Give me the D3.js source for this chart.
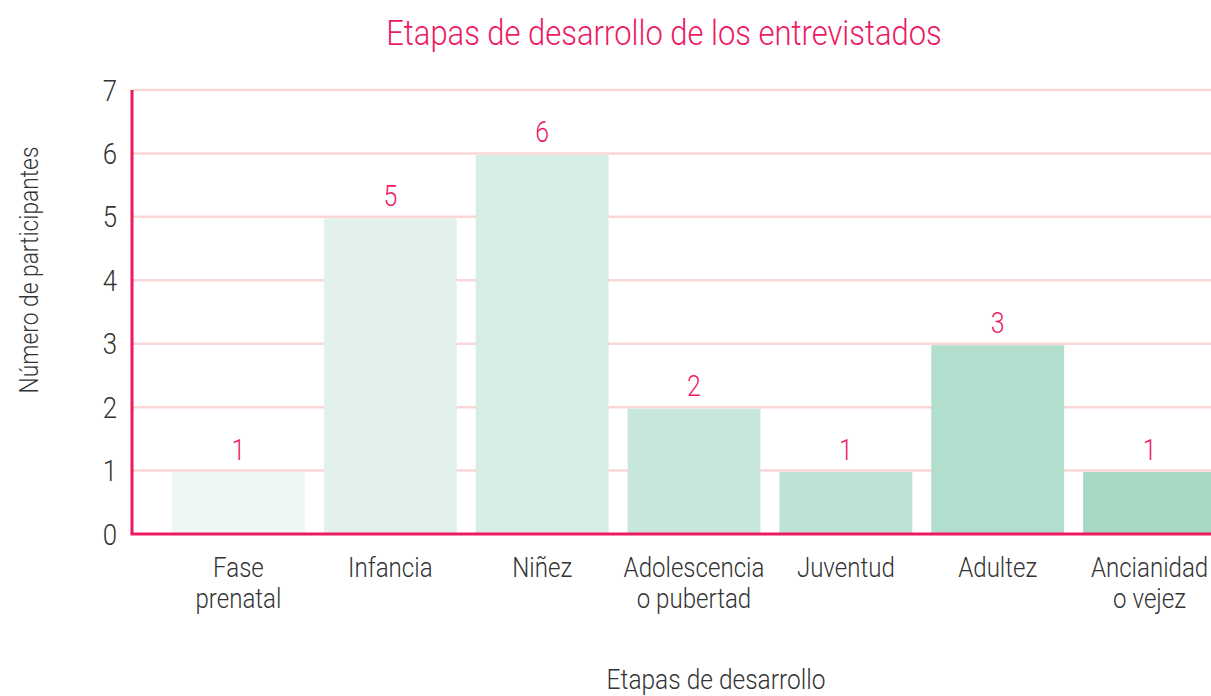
<!DOCTYPE html>
<html>
<head>
<meta charset="utf-8">
<script src="https://cdn.jsdelivr.net/npm/d3@7"></script>
<style>
  html, body { margin: 0; padding: 0; background: #ffffff; overflow: hidden; }
  svg text { font-family: "Roboto", "DejaVu Sans Condensed", sans-serif; font-weight: 300; }
</style>
</head>
<body>
<svg id="chart" width="1211" height="696"></svg>
<script>
// Developmental stages of the interviewees
const categories = [
  ["Fase", "prenatal"],
  ["Infancia"],
  ["Niñez"],
  ["Adolescencia", "o pubertad"],
  ["Juventud"],
  ["Adultez"],
  ["Ancianidad", "o vejez"]
];
const values = [1, 5, 6, 2, 1, 3, 1];
const yTicks = [0, 1, 2, 3, 4, 5, 6, 7];
const barColors = ["#eef7f3", "#e2f1ec", "#d6ede5", "#c8e7dc", "#bce3d4", "#b2dece", "#a6d8c4"];

const title = "Etapas de desarrollo de los entrevistados";
const xTitle = "Etapas de desarrollo";
const yTitle = "Número de participantes";

const pink = "#ec1a5f";
const gridPink = "#fcd6d6";
const textGrey = "#333333";
const SX = 0.86; // horizontal squeeze giving a condensed face

const svg = d3.select("#chart");
const W = 1211;
const plotLeft = 132, plotBottom = 534, plotTop = 90;

// condensed text: a group placed at the anchor, squeezed horizontally
function label(parent, px, py, lines, opts) {
  const g = parent.append("g")
    .attr("transform", `translate(${px},${py}) rotate(${opts.rotate || 0}) scale(${SX},1)`);
  const t = g.append("text")
    .attr("text-anchor", opts.anchor || "middle")
    .attr("fill", opts.fill)
    .attr("font-size", opts.size);
  [].concat(lines).forEach((line, i) => {
    t.append("tspan").attr("x", 0).attr("dy", i === 0 ? 0 : opts.lineGap).text(line);
  });
  return g;
}

const keys = categories.map(d => d.join(" "));
const x = d3.scaleBand()
  .domain(keys)
  .range([plotLeft, 1256])
  .paddingInner(0.125)
  .paddingOuter(0.2635)
  .align(0.5);

const y = d3.scaleLinear().domain([0, 7]).range([plotBottom, plotTop]);

// horizontal grid
svg.append("g")
  .selectAll("line")
  .data(yTicks.filter(t => t > 0))
  .join("line")
  .attr("x1", plotLeft).attr("x2", W)
  .attr("y1", d => y(d)).attr("y2", d => y(d))
  .attr("stroke", gridPink).attr("stroke-width", 2.5);

// bars
svg.append("g")
  .selectAll("rect")
  .data(values)
  .join("rect")
  .attr("x", (d, i) => x(keys[i]))
  .attr("width", x.bandwidth())
  .attr("y", d => y(d) + 1.5)
  .attr("height", d => plotBottom - y(d) - 1.5)
  .attr("fill", (d, i) => barColors[i]);

// value labels
const valG = svg.append("g");
values.forEach((v, i) => {
  label(valG, x(keys[i]) + x.bandwidth() / 2, y(v) - 11, String(v), { fill: pink, size: 29 });
});

// y axis
const yAxis = d3.axisLeft(y).tickValues(yTicks).tickSize(0).tickPadding(0).tickFormat(() => "");
const gy = svg.append("g").attr("transform", `translate(${plotLeft},0)`).call(yAxis);
gy.select(".domain").remove();
gy.selectAll(".tick").each(function (d) {
  label(d3.select(this), -15, 10, d3.format("d")(d), { fill: textGrey, size: 30, anchor: "end" });
});

// axis lines
svg.append("line")
  .attr("x1", plotLeft).attr("x2", plotLeft)
  .attr("y1", plotTop).attr("y2", plotBottom)
  .attr("stroke", pink).attr("stroke-width", 3);
svg.append("line")
  .attr("x1", plotLeft - 1.5).attr("x2", W)
  .attr("y1", plotBottom).attr("y2", plotBottom)
  .attr("stroke", pink).attr("stroke-width", 3);

// x axis category labels
const catG = svg.append("g");
categories.forEach((c, i) => {
  label(catG, x(keys[i]) + x.bandwidth() / 2, 577, c, { fill: textGrey, size: 28, lineGap: 31 });
});

// titles
label(svg, 664, 45, title, { fill: pink, size: 36 });
label(svg, 716, 689, xTitle, { fill: textGrey, size: 28.5 });
label(svg, 38, 270, yTitle, { fill: textGrey, size: 26.5, rotate: -90 });
</script>
</body>
</html>
